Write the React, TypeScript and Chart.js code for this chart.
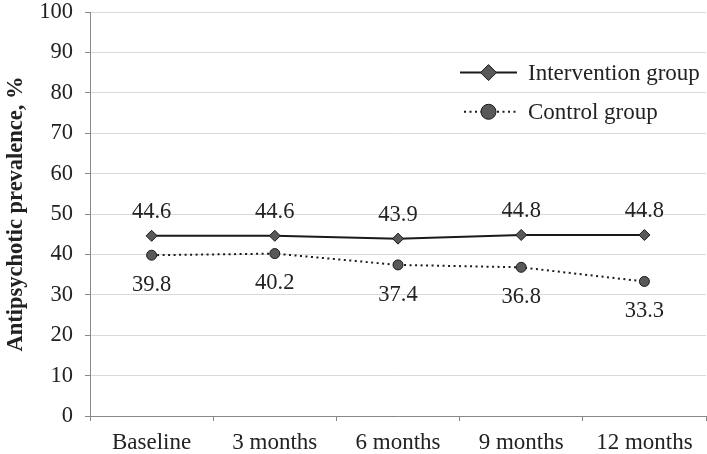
import React, { useEffect, useRef } from "react";
import { Chart, registerables } from "chart.js";

Chart.register(...registerables);

const categories = ["Baseline", "3 months", "6 months", "9 months", "12 months"];
const interventionValues = [44.6, 44.6, 43.9, 44.8, 44.8];
const controlValues = [39.8, 40.2, 37.4, 36.8, 33.3];
const seriesNames = ["Intervention group", "Control group"];
const yTitle = "Antipsychotic prevalence, %";

const FONT = "'Liberation Serif', 'Times New Roman', serif";
const TEXT = "#222222";
const LINE = "#1a1a1a";
const MARK = "#595959";

const dataLabelPlugin = {
  id: "dataLabels",
  afterDatasetsDraw(chart: any) {
    const ctx = chart.ctx;
    ctx.save();
    ctx.font = `22.5px ${FONT}`;
    ctx.fillStyle = TEXT;
    ctx.textAlign = "center";
    ctx.textBaseline = "middle";
    chart.data.datasets.forEach((ds: any, di: number) => {
      const meta = chart.getDatasetMeta(di);
      meta.data.forEach((pt: any, i: number) => {
        const v = ds.data[i];
        const dy = di === 0 ? -24 : 30;
        ctx.fillText(v.toFixed(1), pt.x, pt.y + dy);
      });
    });
    ctx.restore();
  },
};

const legendPlugin = {
  id: "customLegend",
  afterDraw(chart: any) {
    const ctx = chart.ctx;
    const right = chart.chartArea.right;
    const ys = chart.scales.y;
    const x0 = right - 246;
    const x1 = right - 189;
    const xm = (x0 + x1) / 2;
    const tx = right - 178;
    const rows = [ys.getPixelForValue(85), ys.getPixelForValue(75.3)];
    ctx.save();
    // Intervention
    ctx.strokeStyle = LINE;
    ctx.lineWidth = 2;
    ctx.setLineDash([]);
    ctx.beginPath();
    ctx.moveTo(x0, rows[0]);
    ctx.lineTo(x1, rows[0]);
    ctx.stroke();
    ctx.beginPath();
    const d = 8;
    ctx.moveTo(xm, rows[0] - d);
    ctx.lineTo(xm + d, rows[0]);
    ctx.lineTo(xm, rows[0] + d);
    ctx.lineTo(xm - d, rows[0]);
    ctx.closePath();
    ctx.fillStyle = MARK;
    ctx.fill();
    ctx.lineWidth = 1;
    ctx.stroke();
    // Control
    ctx.lineWidth = 2;
    ctx.setLineDash([2, 3.5]);
    ctx.beginPath();
    ctx.moveTo(x0 + 4, rows[1]);
    ctx.lineTo(x1, rows[1]);
    ctx.stroke();
    ctx.setLineDash([]);
    ctx.beginPath();
    ctx.arc(xm, rows[1], 7.5, 0, Math.PI * 2);
    ctx.fillStyle = MARK;
    ctx.fill();
    ctx.lineWidth = 1;
    ctx.stroke();
    // text
    ctx.font = `23px ${FONT}`;
    ctx.fillStyle = TEXT;
    ctx.textAlign = "left";
    ctx.textBaseline = "middle";
    ctx.fillText(seriesNames[0], tx, rows[0] + 1);
    ctx.fillText(seriesNames[1], tx, rows[1] + 1);
    ctx.restore();
  },
};

export default function App() {
  const ref = useRef<HTMLCanvasElement | null>(null);
  useEffect(() => {
    if (!ref.current) return;
    const chart = new Chart(ref.current, {
      type: "line",
      data: {
        labels: categories,
        datasets: [
          {
            label: seriesNames[0],
            data: interventionValues,
            borderColor: LINE,
            borderWidth: 2,
            pointStyle: "rectRot",
            pointRadius: 5.5,
            pointBackgroundColor: MARK,
            pointBorderColor: LINE,
            pointBorderWidth: 1,
            tension: 0,
          },
          {
            label: seriesNames[1],
            data: controlValues,
            borderColor: LINE,
            borderWidth: 2,
            borderDash: [2, 3.5],
            pointStyle: "circle",
            pointRadius: 5,
            pointBackgroundColor: MARK,
            pointBorderColor: LINE,
            pointBorderWidth: 1,
            tension: 0,
          },
        ],
      },
      options: {
        responsive: false,
        animation: false,
        layout: { autoPadding: false, padding: { top: 12, right: 1, left: 0, bottom: 0 } },
        plugins: {
          legend: { display: false },
          tooltip: { enabled: false },
        },
        scales: {
          x: {
            offset: true,
            grid: {
              offset: true,
              drawOnChartArea: false,
              drawTicks: true,
              tickLength: 5,
              tickColor: "#888888",
            },
            border: { color: "#888888", width: 1 },
            ticks: {
              font: { family: FONT, size: 23 },
              color: TEXT,
              padding: 8,
              maxRotation: 0,
              autoSkip: false,
            },
            afterFit(scale: any) {
              scale.height = 38;
              scale.paddingLeft = 0;
              scale.paddingRight = 0;
            },
          },
          y: {
            min: 0,
            max: 100,
            grid: {
              color: "#d9d9d9",
              tickColor: "#888888",
              tickLength: 5,
              lineWidth: 1,
            },
            border: { color: "#888888", width: 1 },
            ticks: {
              stepSize: 10,
              font: { family: FONT, size: 22.5 },
              color: TEXT,
              padding: 12,
            },
            title: {
              display: true,
              text: yTitle,
              font: { family: FONT, size: 22.5, weight: "bold" },
              color: TEXT,
              padding: { top: 3, bottom: 3 },
            },
            afterFit(scale: any) {
              scale.width = 90;
              scale.paddingTop = 0;
              scale.paddingBottom = 0;
            },
          },
        },
      },
      plugins: [dataLabelPlugin, legendPlugin],
    } as any);
    return () => chart.destroy();
  }, []);
  return (
    <div style={{ position: "fixed", left: 0, top: 0, width: 707, height: 454, background: "#fff" }}>
      <canvas ref={ref} width={707} height={454} style={{ display: "block" }} />
    </div>
  );
}
